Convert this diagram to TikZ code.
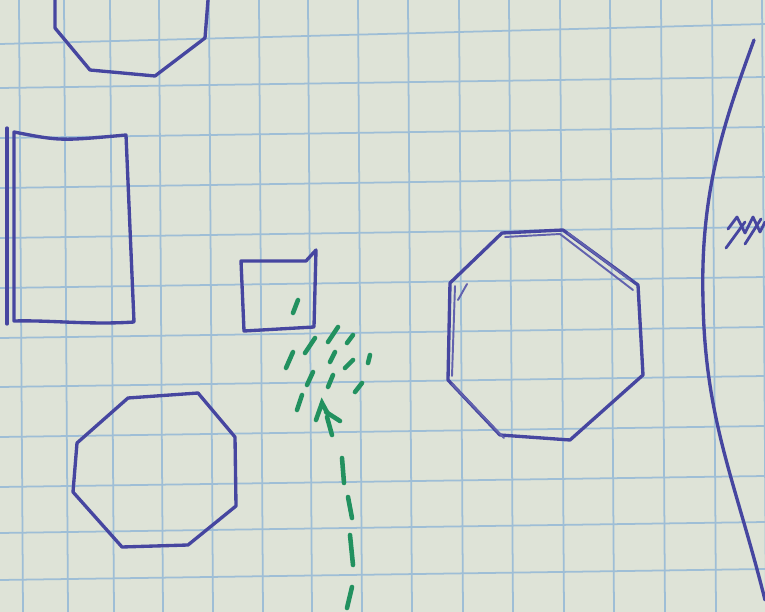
\documentclass[tikz,border=0pt]{standalone}
\definecolor{paper}{RGB}{222,227,215}
\definecolor{gridblue}{RGB}{158,190,214}
\definecolor{penblue}{RGB}{70,70,160}
\definecolor{pengreen}{RGB}{34,145,95}
\tikzset{
  pen/.style={draw=penblue, line width=1.9pt, line join=round, line cap=round},
  thinpen/.style={draw=penblue!85, line width=1.1pt, line join=round, line cap=round},
  grn/.style={draw=pengreen, line width=2.6pt, line cap=round},
  gridln/.style={draw=gridblue, line width=1pt}
}
\begin{document}
\begin{tikzpicture}[x=0.02cm, y=-0.02cm]
\useasboundingbox (0,0) rectangle (765,612);
\fill[paper] (0,0) rectangle (765,612);
% grid
\foreach \gx in {19,64,110,159,209,259,308,358,408,459,509,560,610,661,712,762}
  \draw[gridln] (\gx,0) -- (\gx+4,612);
\draw[gridln] (0,44) -- (765,24);
\foreach \gy in {83,133,183,233,283,333,382,432,482,528,575}
  \draw[gridln] (0,\gy+5) -- (765,\gy-6);
% top octagon (cut by top edge)
\draw[pen] (55,0) -- (55,28) -- (90,70) -- (155,76) -- (205,38) -- (208,0);
% left rectangle
\draw[pen] (7,128) -- (7,324);
\draw[pen] (14,132) .. controls (60,141) .. (126,135) -- (134,322) .. controls (90,325) and (50,320) .. (14,321) -- cycle;
% small square
\draw[pen] (241,261) -- (306,261) -- (316,250) -- (314,327) -- (244,331) -- cycle;
% bottom-left octagon
\draw[pen] (128,398) -- (198,393) -- (235,437) -- (236,506) -- (188,545) -- (122,547) -- (73,492) -- (77,443) -- cycle;
% big octagon
\draw[pen] (502,233) -- (563,230) -- (638,285) -- (643,375) -- (570,440) -- (500,435) -- (448,380) -- (450,283) -- cycle;
\draw[thinpen] (505,237) -- (560,234) -- (633,290);
\draw[thinpen] (568,233) -- (630,280);
\draw[thinpen] (455,286) -- (452,376);
\draw[thinpen] (452,384) -- (504,438);
\draw[thinpen] (467,284) -- (458,300);
% right curve
\draw[pen] (754,40) .. controls (725,120) and (700,190) .. (703,300) .. controls (705,420) and (735,480) .. (765,600);
% xx mark
\draw[pen, line width=1.6pt] (728,229) -- (737,217) -- (745,233) -- (753,217) -- (760,232) -- (765,222);
\draw[pen, line width=1.6pt] (726,248) -- (745,222);
\draw[pen, line width=1.6pt] (745,244) -- (761,219);
% green marks
\draw[grn] (298,300) -- (293,313);
\draw[grn] (338,327) -- (328,342);
\draw[grn] (315,338) -- (305,353);
\draw[grn] (353,335) -- (347,343);
\draw[grn] (293,352) -- (286,368);
\draw[grn] (335,352) -- (330,362);
\draw[grn] (370,355) -- (368,363);
\draw[grn] (353,360) -- (345,368);
\draw[grn] (313,372) -- (307,385);
\draw[grn] (333,375) -- (328,387);
\draw[grn] (362,383) -- (355,392);
\draw[grn] (302,395) -- (297,410);
% arrow
\draw[grn] (316,420) -- (322,403) -- (328,414);
\draw[grn] (326,412) -- (340,421);
\draw[grn] (327,417) -- (332,435);
% dashed shaft
\draw[grn] (342,458) -- (344,483);
\draw[grn] (348,497) -- (352,518);
\draw[grn] (350,535) -- (353,565);
\draw[grn] (352,587) -- (347,608);
\end{tikzpicture}
\end{document}
